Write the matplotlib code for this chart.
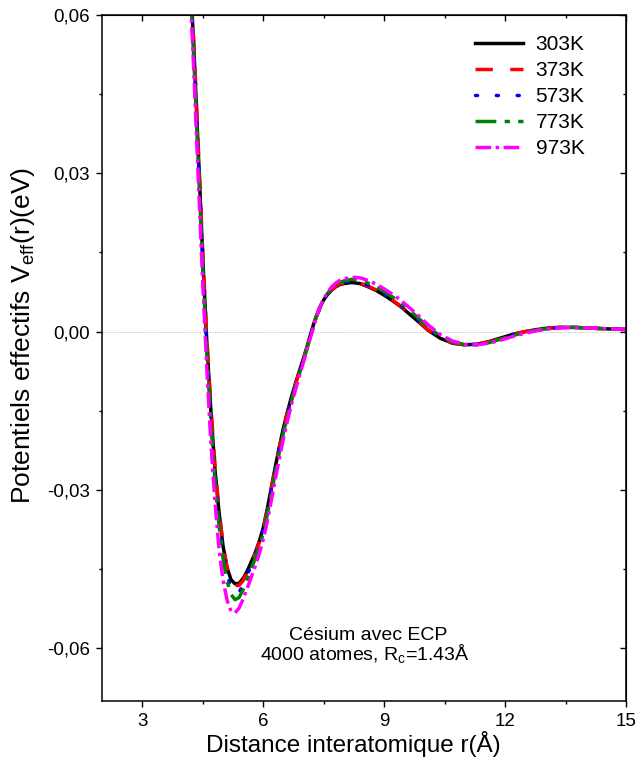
import matplotlib
matplotlib.use("Agg")
import matplotlib.pyplot as plt
from matplotlib.ticker import MultipleLocator, FuncFormatter

plt.rcParams['font.family'] = ['Liberation Sans', 'DejaVu Sans']

r = [4.15, 4.20, 4.25, 4.30, 4.35, 4.40, 4.45, 4.50, 4.55, 4.60, 4.70, 4.80, 4.90,
     5.00, 5.10, 5.20, 5.30, 5.40, 5.50, 5.60, 5.70, 5.80, 5.90, 6.00, 6.10, 6.20,
     6.30, 6.40, 6.50, 6.60, 6.70, 6.80, 6.90, 7.00, 7.10, 7.20, 7.30, 7.40, 7.50,
     7.60, 7.70, 7.80, 7.90, 8.00, 8.20, 8.40, 8.60, 8.80, 9.00, 9.20, 9.40, 9.60,
     9.80, 10.10, 10.40, 10.70, 11.00, 11.30, 11.60, 11.90, 12.20, 12.50, 12.80,
     13.10, 13.40, 13.70, 14.00, 14.30, 14.60, 15.00]

v303 = [0.074, 0.066, 0.058, 0.050, 0.041, 0.032, 0.023, 0.014, 0.006, -0.002, -0.015,
        -0.026, -0.034, -0.0405, -0.0447, -0.0470, -0.0478, -0.0477, -0.0468, -0.0454,
        -0.0437, -0.0419, -0.0398, -0.0372, -0.0336, -0.0296, -0.0256, -0.0218, -0.0183,
        -0.0152, -0.0124, -0.0098, -0.0074, -0.0050, -0.0025, 0.0002, 0.0026, 0.0045,
        0.0060, 0.0071, 0.0079, 0.0085, 0.0089, 0.0091, 0.0093, 0.0091, 0.0085, 0.0078,
        0.0069, 0.0059, 0.0048, 0.0035, 0.0022, 0.0002, -0.0013, -0.0022, -0.0025,
        -0.0024, -0.0019, -0.0012, -0.0005, 0.0000, 0.0004, 0.0007, 0.0008, 0.0008,
        0.0007, 0.0006, 0.0005, 0.0004]

v373 = [0.075, 0.067, 0.059, 0.051, 0.042, 0.033, 0.024, 0.015, 0.007, -0.001, -0.014,
        -0.025, -0.0335, -0.0402, -0.0446, -0.0471, -0.0481, -0.0481, -0.0472, -0.0457,
        -0.0440, -0.0421, -0.0400, -0.0374, -0.0338, -0.0298, -0.0258, -0.0220, -0.0185,
        -0.0154, -0.0126, -0.0100, -0.0076, -0.0052, -0.0027, 0.0000, 0.0025, 0.0044,
        0.0060, 0.0071, 0.0079, 0.0086, 0.0090, 0.0092, 0.0094, 0.0092, 0.0086, 0.0079,
        0.0070, 0.0060, 0.0049, 0.0036, 0.0023, 0.0003, -0.0012, -0.0022, -0.0025,
        -0.0024, -0.0019, -0.0012, -0.0005, 0.0000, 0.0004, 0.0007, 0.0008, 0.0008,
        0.0007, 0.0006, 0.0005, 0.0004]

v573 = [0.073, 0.065, 0.057, 0.049, 0.040, 0.031, 0.022, 0.013, 0.005, -0.003, -0.016,
        -0.027, -0.035, -0.0415, -0.0460, -0.0486, -0.0497, -0.0494, -0.0480, -0.0462,
        -0.0443, -0.0423, -0.0401, -0.0375, -0.0340, -0.0300, -0.0260, -0.0221, -0.0186,
        -0.0155, -0.0127, -0.0101, -0.0077, -0.0053, -0.0028, -0.0002, 0.0024, 0.0044,
        0.0060, 0.0071, 0.0080, 0.0087, 0.0091, 0.0093, 0.0096, 0.0094, 0.0088, 0.0081,
        0.0072, 0.0062, 0.0051, 0.0038, 0.0025, 0.0005, -0.0011, -0.0021, -0.0025,
        -0.0024, -0.0020, -0.0013, -0.0006, -0.0001, 0.0003, 0.0006, 0.0008, 0.0008,
        0.0007, 0.0006, 0.0005, 0.0004]

v773 = [0.072, 0.064, 0.056, 0.048, 0.039, 0.030, 0.021, 0.012, 0.004, -0.004, -0.017,
        -0.028, -0.0365, -0.0428, -0.0472, -0.0498, -0.0508, -0.0504, -0.0489, -0.0470,
        -0.0450, -0.0430, -0.0408, -0.0382, -0.0347, -0.0307, -0.0267, -0.0228, -0.0192,
        -0.0160, -0.0131, -0.0104, -0.0079, -0.0054, -0.0028, -0.0002, 0.0024, 0.0045,
        0.0062, 0.0073, 0.0082, 0.0089, 0.0093, 0.0096, 0.0099, 0.0097, 0.0092, 0.0085,
        0.0076, 0.0066, 0.0055, 0.0042, 0.0029, 0.0008, -0.0009, -0.0020, -0.0025,
        -0.0025, -0.0021, -0.0014, -0.0007, -0.0002, 0.0003, 0.0006, 0.0008, 0.0008,
        0.0007, 0.0006, 0.0005, 0.0004]

v973 = [0.070, 0.062, 0.054, 0.045, 0.036, 0.027, 0.018, 0.009, 0.001, -0.007, -0.021,
        -0.032, -0.0410, -0.0470, -0.0508, -0.0530, -0.0533, -0.0524, -0.0507, -0.0487,
        -0.0466, -0.0445, -0.0421, -0.0394, -0.0360, -0.0320, -0.0280, -0.0240, -0.0203,
        -0.0169, -0.0138, -0.0110, -0.0083, -0.0057, -0.0030, -0.0004, 0.0023, 0.0045,
        0.0062, 0.0075, 0.0085, 0.0092, 0.0097, 0.0100, 0.0103, 0.0102, 0.0097, 0.0090,
        0.0081, 0.0071, 0.0060, 0.0047, 0.0034, 0.0012, -0.0006, -0.0018, -0.0024,
        -0.0025, -0.0022, -0.0016, -0.0009, -0.0003, 0.0002, 0.0005, 0.0007, 0.0008,
        0.0007, 0.0006, 0.0005, 0.0004]

labels = ['303K', '373K', '573K', '773K', '973K']
series = [v303, v373, v573, v773, v973]
colors = ['black', 'red', 'blue', 'green', 'magenta']
styles = ['-', (0, (5, 5)), (0, (0.6, 5.4)), (0, (6, 2.4, 1.5, 2.4)), (0, (4.5, 1.3, 1, 1.3))]
caps = ['butt', 'butt', 'round', 'butt', 'butt']

fig = plt.figure(figsize=(6.36, 7.65), dpi=100)
ax = fig.add_axes([0.1604, 0.0837, 0.8239, 0.8967])

ax.axhline(0, color='#bbbbbb', lw=0.6, ls=(0, (1.5, 1.5)), zorder=0)
for vals, lab, c, s, cp in zip(series, labels, colors, styles, caps):
    ax.plot(r, vals, color=c, ls=s, lw=2.5, label=lab, dash_capstyle=cp)

ax.set_xlim(2, 15)
ax.set_ylim(-0.07, 0.06)
ax.xaxis.set_major_locator(MultipleLocator(3))
ax.xaxis.set_minor_locator(MultipleLocator(1.5))
ax.yaxis.set_major_locator(MultipleLocator(0.03))
ax.yaxis.set_minor_locator(MultipleLocator(0.015))
ax.yaxis.set_major_formatter(FuncFormatter(lambda v, p: f"{v:.2f}".replace('.', ',').replace('-0,00', '0,00')))
ax.xaxis.set_major_formatter(FuncFormatter(lambda v, p: f"{v:.0f}"))
ax.tick_params(which='major', direction='out', length=4.5, width=1, labelsize=13.5, pad=4)
ax.tick_params(which='minor', direction='out', length=2.5, width=1)
for sp in ax.spines.values():
    sp.set_linewidth(1.1)

secx = ax.secondary_xaxis('top')
secx.xaxis.set_major_locator(MultipleLocator(3))
secx.xaxis.set_minor_locator(MultipleLocator(1.5))
secx.tick_params(which='major', direction='in', length=4.5, width=1, labeltop=False)
secx.tick_params(which='minor', direction='in', length=2.5, width=1)
secy = ax.secondary_yaxis('right')
secy.yaxis.set_major_locator(MultipleLocator(0.03))
secy.yaxis.set_minor_locator(MultipleLocator(0.015))
secy.tick_params(which='major', direction='in', length=4.5, width=1, labelright=False)
secy.tick_params(which='minor', direction='in', length=2.5, width=1)

ax.set_xlabel('Distance interatomique r(Å)', fontsize=17.5)
ax.set_ylabel('Potentiels effectifs V$_{\\mathregular{eff}}$(r)(eV)', fontsize=19)
ax.xaxis.set_label_coords(0.48, -0.044)
ax.yaxis.set_label_coords(-0.124, 0.533)

ax.text(8.6, -0.0575, 'Césium avec ECP', ha='center', va='center', fontsize=14)
ax.text(8.52, -0.0612, '4000 atomes, R$_{\\mathregular{c}}$=1.43Å', ha='center', va='center', fontsize=14)

ax.legend(loc='upper right', frameon=False, fontsize=15, handlelength=2.3,
          labelspacing=0.34, handletextpad=0.62, borderpad=0, borderaxespad=0,
          bbox_to_anchor=(0.921, 0.971))

fig.savefig('out.png', dpi=100)
